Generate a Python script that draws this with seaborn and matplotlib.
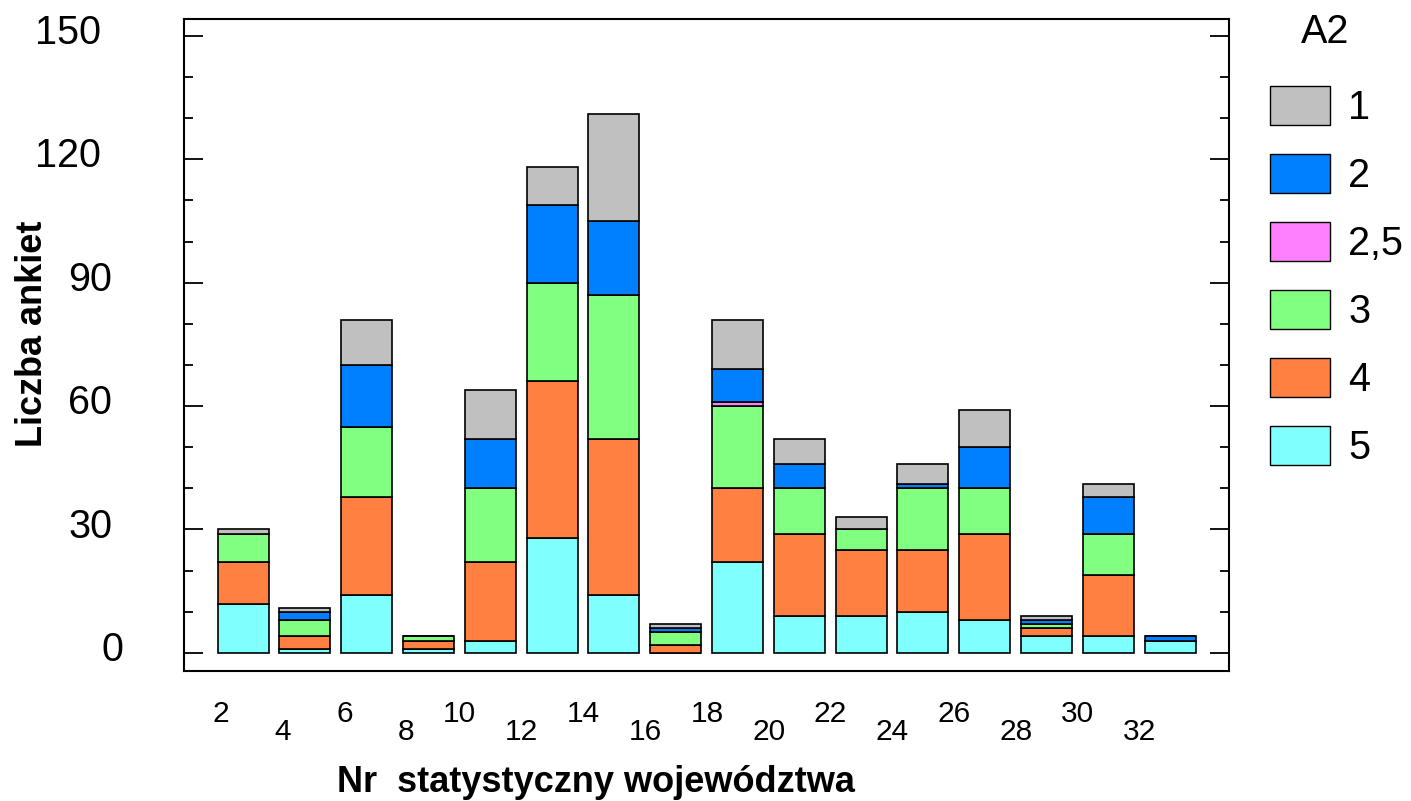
import matplotlib.pyplot as plt
import matplotlib.patches as mpatches
import numpy as np
import pandas as pd
import seaborn as sns

plt.rcParams['font.family'] = ['Liberation Sans', 'DejaVu Sans']

# numer statystyczny wojewodztwa
woj = [2, 4, 6, 8, 10, 12, 14, 16, 18, 20, 22, 24, 26, 28, 30, 32]

# liczba ankiet wg odpowiedzi A2 (od gory stosu do dolu)
a2_1 = [1, 1, 11, 0, 12, 9, 26, 1, 12, 6, 3, 5, 9, 1, 3, 0]
a2_2 = [0, 2, 15, 0, 12, 19, 18, 1, 8, 6, 0, 1, 10, 1, 9, 1]
a2_25 = [0, 0, 0, 0, 0, 0, 0, 0, 1, 0, 0, 0, 0, 0, 0, 0]
a2_3 = [7, 4, 17, 1, 18, 24, 35, 3, 20, 11, 5, 15, 11, 1, 10, 0]
a2_4 = [10, 3, 24, 2, 19, 38, 38, 2, 18, 20, 16, 15, 21, 2, 15, 0]
a2_5 = [12, 1, 14, 1, 3, 28, 14, 0, 22, 9, 9, 10, 8, 4, 4, 3]

labels = ['1', '2', '2,5', '3', '4', '5']
colors = ['#c0c0c0', '#0080ff', '#ff80ff', '#80ff80', '#ff8040', '#80ffff']
counts = [a2_1, a2_2, a2_25, a2_3, a2_4, a2_5]

y_ticks = [0, 30, 60, 90, 120, 150]

df = pd.DataFrame({
    'woj': np.tile(woj, len(labels)),
    'A2': np.repeat(labels, len(woj)),
    'n': np.concatenate(counts),
})

fig = plt.figure(figsize=(14.11, 8.01), dpi=100)
ax = fig.add_axes([0.1304, 0.1623, 0.7407, 0.814])

# seaborn stacks the first hue level on top
sns.histplot(data=df, x='woj', weights='n', hue='A2', hue_order=labels,
             palette=colors, multiple='stack', binwidth=2, binrange=(1, 33),
             shrink=0.825, alpha=1, edgecolor='black', linewidth=1.2,
             legend=False, ax=ax)

ax.set_xlim(0.09, 33.91)
ax.set_ylim(-4.4, 154.1)

for s in ax.spines.values():
    s.set_linewidth(1.5)

# y axis: major every 30, minor every 10, ticks inside on both sides
ax.set_yticks(y_ticks)
ax.set_yticks(np.arange(0, 151, 10), minor=True)
ax.tick_params(axis='y', which='both', direction='in', left=True, right=True,
               width=1.3, labelleft=False)
ax.tick_params(axis='y', which='major', length=14)
ax.tick_params(axis='y', which='minor', length=6.5)
# the original shifts shorter numbers to the right
for v in y_ticks:
    n = len(str(v))
    ax.text((134 - 11 * n - 184) / 1045, v + 0.7, str(v), transform=ax.get_yaxis_transform(),
            ha='right', va='center', fontsize=28.5)

# x axis: staggered labels, no tick marks
pos = np.array(woj) - 0.45
ax.set_xticks(pos[::2], [str(w) for w in woj[::2]], ha='right')
ax.set_xticks(pos[1::2], [str(w) for w in woj[1::2]], minor=True, ha='right')
ax.tick_params(axis='x', which='both', length=0, labelsize=21.5)
ax.tick_params(axis='x', which='major', pad=21)
ax.tick_params(axis='x', which='minor', pad=34)

ax.set_xlabel('Nr  statystyczny województwa', fontsize=26, fontweight='bold')
ax.set_ylabel('Liczba ankiet', fontsize=26, fontweight='bold')
ax.xaxis.set_label_coords(0.394, -0.144)
ax.yaxis.set_label_coords(-0.128, 0.518)

handles = [mpatches.Patch(facecolor=c, edgecolor='black', linewidth=1) for c in colors]
fig.legend(handles, labels, loc='upper left', bbox_to_anchor=(1270 / 1411, 1 - 86 / 801),
           frameon=False, fontsize=28.5, handlelength=1.52, handleheight=1.12,
           handletextpad=0.45, labelspacing=0.69, borderaxespad=0, borderpad=0)
fig.text(1325 / 1411, 1 - 32 / 801, 'A2', ha='center', va='center', fontsize=28.5)

fig.savefig('out.png', dpi=100)
